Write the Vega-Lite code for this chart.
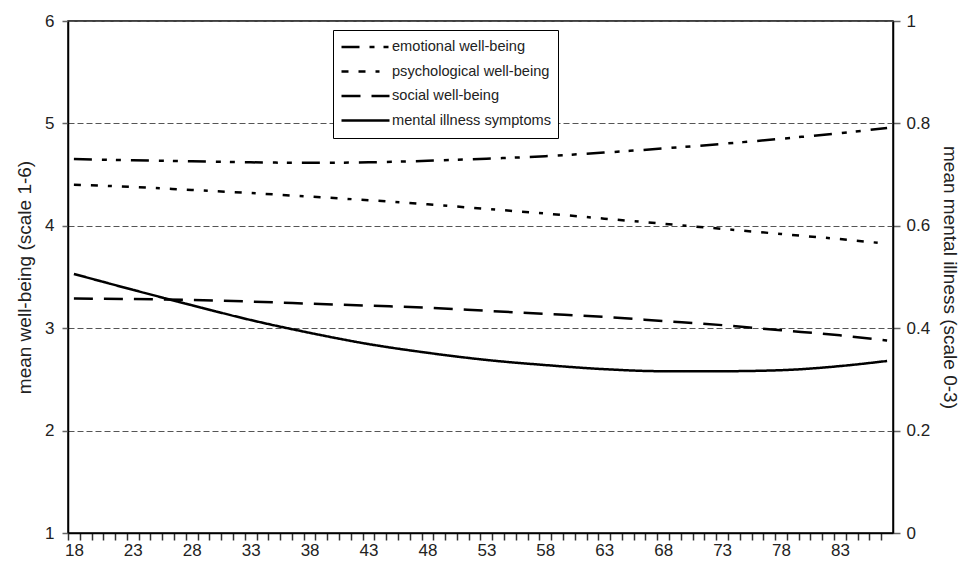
{
  "$schema": "https://vega.github.io/schema/vega-lite/v6.json",
  "width": 825,
  "height": 512,
  "autosize": {"type": "none"},
  "padding": {"left": 68, "top": 21, "right": 71, "bottom": 31},
  "background": "white",
  "config": {
    "font": "Liberation Sans",
    "view": {"stroke": "black", "strokeWidth": 1.5},
    "axis": {
      "labelFont": "Liberation Sans",
      "titleFont": "Liberation Sans",
      "labelFontSize": 17,
      "titleFontSize": 19,
      "titleFontWeight": "normal",
      "labelColor": "#222",
      "titleColor": "#222",
      "domainColor": "black",
      "domainWidth": 1.5
    },
    "legend": {
      "labelFont": "Liberation Sans",
      "labelFontSize": 14.6,
      "labelColor": "#222"
    }
  },
  "datasets": {
    "wb": [
      {"age": 18, "measure": "emotional well-being", "value": 4.652},
      {"age": 23, "measure": "emotional well-being", "value": 4.64},
      {"age": 28, "measure": "emotional well-being", "value": 4.63},
      {"age": 33, "measure": "emotional well-being", "value": 4.62},
      {"age": 38, "measure": "emotional well-being", "value": 4.615},
      {"age": 43, "measure": "emotional well-being", "value": 4.62},
      {"age": 48, "measure": "emotional well-being", "value": 4.635},
      {"age": 53, "measure": "emotional well-being", "value": 4.655},
      {"age": 58, "measure": "emotional well-being", "value": 4.68},
      {"age": 63, "measure": "emotional well-being", "value": 4.715},
      {"age": 68, "measure": "emotional well-being", "value": 4.755},
      {"age": 73, "measure": "emotional well-being", "value": 4.80},
      {"age": 78, "measure": "emotional well-being", "value": 4.85},
      {"age": 83, "measure": "emotional well-being", "value": 4.905},
      {"age": 87, "measure": "emotional well-being", "value": 4.955},
      {"age": 18, "measure": "psychological well-being", "value": 4.40},
      {"age": 23, "measure": "psychological well-being", "value": 4.38},
      {"age": 28, "measure": "psychological well-being", "value": 4.35},
      {"age": 33, "measure": "psychological well-being", "value": 4.32},
      {"age": 38, "measure": "psychological well-being", "value": 4.285},
      {"age": 43, "measure": "psychological well-being", "value": 4.25},
      {"age": 48, "measure": "psychological well-being", "value": 4.21},
      {"age": 53, "measure": "psychological well-being", "value": 4.165},
      {"age": 58, "measure": "psychological well-being", "value": 4.12},
      {"age": 63, "measure": "psychological well-being", "value": 4.07},
      {"age": 68, "measure": "psychological well-being", "value": 4.02},
      {"age": 73, "measure": "psychological well-being", "value": 3.97},
      {"age": 78, "measure": "psychological well-being", "value": 3.92},
      {"age": 83, "measure": "psychological well-being", "value": 3.87},
      {"age": 87, "measure": "psychological well-being", "value": 3.825},
      {"age": 18, "measure": "social well-being", "value": 3.29},
      {"age": 23, "measure": "social well-being", "value": 3.285},
      {"age": 28, "measure": "social well-being", "value": 3.275},
      {"age": 33, "measure": "social well-being", "value": 3.26},
      {"age": 38, "measure": "social well-being", "value": 3.24},
      {"age": 43, "measure": "social well-being", "value": 3.22},
      {"age": 48, "measure": "social well-being", "value": 3.20},
      {"age": 53, "measure": "social well-being", "value": 3.17},
      {"age": 58, "measure": "social well-being", "value": 3.14},
      {"age": 63, "measure": "social well-being", "value": 3.11},
      {"age": 68, "measure": "social well-being", "value": 3.07},
      {"age": 73, "measure": "social well-being", "value": 3.03},
      {"age": 78, "measure": "social well-being", "value": 2.98},
      {"age": 83, "measure": "social well-being", "value": 2.93},
      {"age": 87, "measure": "social well-being", "value": 2.88}
    ],
    "mi": [
      {"age": 18, "measure": "mental illness symptoms", "value": 0.506},
      {"age": 23, "measure": "mental illness symptoms", "value": 0.475},
      {"age": 28, "measure": "mental illness symptoms", "value": 0.445},
      {"age": 33, "measure": "mental illness symptoms", "value": 0.416},
      {"age": 38, "measure": "mental illness symptoms", "value": 0.391},
      {"age": 43, "measure": "mental illness symptoms", "value": 0.369},
      {"age": 48, "measure": "mental illness symptoms", "value": 0.352},
      {"age": 53, "measure": "mental illness symptoms", "value": 0.338},
      {"age": 58, "measure": "mental illness symptoms", "value": 0.328},
      {"age": 63, "measure": "mental illness symptoms", "value": 0.32},
      {"age": 68, "measure": "mental illness symptoms", "value": 0.316},
      {"age": 73, "measure": "mental illness symptoms", "value": 0.316},
      {"age": 78, "measure": "mental illness symptoms", "value": 0.318},
      {"age": 83, "measure": "mental illness symptoms", "value": 0.326},
      {"age": 87, "measure": "mental illness symptoms", "value": 0.336}
    ]
  },
  "layer": [
    {
      "data": {"name": "wb"},
      "mark": {"type": "line", "color": "black", "strokeWidth": 2.5, "interpolate": "monotone", "strokeCap": "butt"},
      "encoding": {
        "x": {
          "field": "age", "type": "quantitative",
          "scale": {"domain": [17.5, 87.5], "nice": false, "zero": false},
          "axis": {
            "title": null,
            "values": [18,19,20,21,22,23,24,25,26,27,28,29,30,31,32,33,34,35,36,37,38,39,40,41,42,43,44,45,46,47,48,49,50,51,52,53,54,55,56,57,58,59,60,61,62,63,64,65,66,67,68,69,70,71,72,73,74,75,76,77,78,79,80,81,82,83,84,85,86,87],
            "labelExpr": "((datum.value - 18) % 5 == 0 && datum.value < 85) ? toString(datum.value) : ''",
            "tickOffset": -5.9,
            "labelOffset": 5.9,
            "labelOverlap": false,
            "labelBound": false,
            "labelFlush": false,
            "labelPadding": 2,
            "ticks": true,
            "tickSize": 7,
            "tickWidth": 1.5,
            "tickColor": "#333333",
            "grid": false
          }
        },
        "y": {
          "field": "value", "type": "quantitative",
          "scale": {"domain": [1, 6], "nice": false, "zero": false},
          "axis": {
            "title": "mean well-being (scale 1-6)",
            "values": [1, 2, 3, 4, 5, 6],
            "grid": true,
            "gridDash": [6, 3],
            "gridColor": "#555555",
            "gridWidth": 1,
            "ticks": true,
            "tickSize": 6,
            "tickWidth": 1.5,
            "tickColor": "#666666",
            "labelPadding": 8,
            "titlePadding": 10
          }
        },
        "strokeDash": {
          "field": "measure", "type": "nominal",
          "scale": {
            "domain": ["emotional well-being", "psychological well-being", "social well-being", "mental illness symptoms"],
            "range": [[18, 10, 5, 9, 5, 10], [7, 10, 7, 10, 4, 10], [19, 11], [1, 0]]
          },
          "legend": {
            "title": null,
            "orient": "none",
            "legendX": 265,
            "legendY": 9,
            "strokeColor": "black",
            "fillColor": "white",
            "padding": 7,
            "symbolType": "stroke",
            "symbolSize": 2304,
            "symbolStrokeWidth": 2.5,
            "symbolStrokeColor": "black",
            "labelOffset": 1,
            "labelLimit": 300,
            "clipHeight": 20,
            "rowPadding": 4.5
          }
        }
      }
    },
    {
      "data": {"name": "mi"},
      "mark": {"type": "line", "color": "black", "strokeWidth": 2.5, "interpolate": "monotone", "strokeCap": "butt"},
      "encoding": {
        "x": {
          "field": "age", "type": "quantitative",
          "axis": {
            "title": null,
            "values": [18,19,20,21,22,23,24,25,26,27,28,29,30,31,32,33,34,35,36,37,38,39,40,41,42,43,44,45,46,47,48,49,50,51,52,53,54,55,56,57,58,59,60,61,62,63,64,65,66,67,68,69,70,71,72,73,74,75,76,77,78,79,80,81,82,83,84,85,86,87],
            "labelExpr": "((datum.value - 18) % 5 == 0 && datum.value < 85) ? toString(datum.value) : ''",
            "tickOffset": -5.9,
            "labelOffset": 5.9,
            "labelOverlap": false,
            "labelBound": false,
            "labelFlush": false,
            "labelPadding": 2,
            "ticks": true,
            "tickSize": 7,
            "tickWidth": 1.5,
            "tickColor": "#333333",
            "grid": false
          }
        },
        "y": {
          "field": "value", "type": "quantitative",
          "scale": {"domain": [0, 1], "nice": false, "zero": false},
          "axis": {
            "orient": "right",
            "title": "mean mental illness (scale 0-3)",
            "values": [0, 0.2, 0.4, 0.6, 0.8, 1],
            "format": "~g",
            "grid": false,
            "ticks": true,
            "tickSize": 7,
            "tickWidth": 1.5,
            "tickColor": "#666666",
            "labelPadding": 6,
            "titlePadding": 10
          }
        },
        "strokeDash": {
          "field": "measure", "type": "nominal",
          "scale": {
            "domain": ["emotional well-being", "psychological well-being", "social well-being", "mental illness symptoms"],
            "range": [[18, 10, 5, 9, 5, 10], [7, 10, 7, 10, 4, 10], [19, 11], [1, 0]]
          }
        }
      }
    }
  ],
  "resolve": {"scale": {"y": "independent"}}
}
